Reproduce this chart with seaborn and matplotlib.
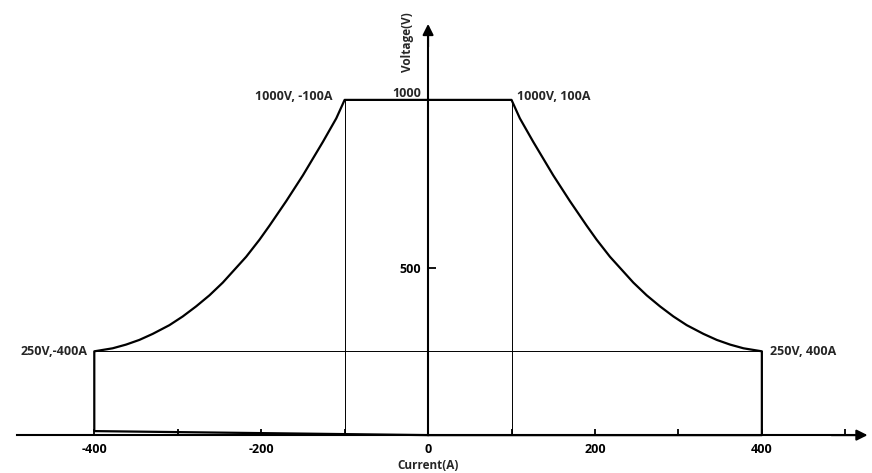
import matplotlib
matplotlib.use("Agg")
import matplotlib.pyplot as plt
import seaborn as sns
import pandas as pd

sns.set_theme(style="white")
plt.rcParams['font.family'] = ['Open Sans', 'DejaVu Sans']

# Data (right half; left half is its mirror)
current_right = [100, 110, 126, 138, 150, 170, 190, 202, 218, 246, 262, 278, 294,
                 310, 330, 346, 362, 378, 400]
voltage_right = [1000, 945, 875, 825, 775, 698, 625, 583, 532, 455, 417, 384, 354,
                 328, 302, 284, 270, 259, 250]
bottom_left_v = 12
x_tick_vals = [-400, -300, -200, -100, 0, 100, 200, 300, 400, 500]
x_tick_labels = ["-400", "", "-200", "", "0", "", "200", "", "400", ""]
y_tick_vals = [500, 1000]
y_tick_labels = ["500", ""]
y_top_label = "1000"
corner_labels = ["1000V, -100A", "1000V, 100A", "250V,-400A", "250V, 400A"]

# Build outline path from the arrays
xs = [0, -400, -400] + [-c for c in current_right[::-1]] + current_right + [400, 400, 0]
ys = [0, bottom_left_v, voltage_right[-1]] + voltage_right[::-1] + voltage_right + [0, 0, 0]
outline = pd.DataFrame({"I": xs, "V": ys})

fig = plt.figure(figsize=(8.72, 4.73), dpi=100)
ax = fig.add_axes([0, 0, 1, 1])
ax.set_xlim(-513, 532)
ax.set_ylim(-113, 1298)

sns.lineplot(data=outline, x="I", y="V", sort=False, estimator=None, color="black",
             lw=1.6, ax=ax, legend=False)

# thin guide lines
ax.plot([-100, -100], [0, 1000], color="black", lw=0.7)
ax.plot([100, 100], [0, 1000], color="black", lw=0.7)
ax.plot([-400, 400], [250, 250], color="black", lw=0.7)

# axes through origin
for s in ["top", "right"]:
    ax.spines[s].set_visible(False)
ax.spines["left"].set_position(("data", 0))
ax.spines["bottom"].set_position(("data", 0))
ax.spines["left"].set_bounds(0, 1200)
ax.spines["bottom"].set_bounds(-493, 510)
for s in ["left", "bottom"]:
    ax.spines[s].set_color("black")
    ax.spines[s].set_linewidth(1.5)
ax.annotate("", xy=(530, 0), xytext=(480, 0),
            arrowprops=dict(arrowstyle="-|>", color="black", lw=1.5, mutation_scale=16))
ax.annotate("", xy=(0, 1235), xytext=(0, 1150),
            arrowprops=dict(arrowstyle="-|>", color="black", lw=1.5, mutation_scale=16))

ax.set_xticks(x_tick_vals)
ax.set_xticklabels(x_tick_labels)
ax.set_yticks(y_tick_vals)
ax.set_yticklabels(y_tick_labels)
ax.tick_params(axis="x", direction="in", length=4, width=1.3, color="black", pad=6,
               labelsize=9, bottom=True)
ax.tick_params(axis="y", direction="in", length=6, width=1.3, color="black", pad=5,
               labelsize=9, left=True)
for lab in ax.get_xticklabels() + ax.get_yticklabels():
    lab.set_fontweight("bold")
    lab.set_color("black")
ax.set_xlabel("")
ax.set_ylabel("")

ax.text(-8, 1018, y_top_label, ha="right", va="center", fontsize=9, fontweight="bold")
ax.text(0, -92, "Current(A)", ha="center", va="center", fontsize=8.5, fontweight="bold")
ax.text(-25, 1173, "Voltage(V)", ha="center", va="center", rotation=90, fontsize=8.5,
        fontweight="bold")

ax.text(-114, 1009, corner_labels[0], ha="right", va="center", fontsize=9, fontweight="bold")
ax.text(107, 1009, corner_labels[1], ha="left", va="center", fontsize=9, fontweight="bold")
ax.text(-408, 248, corner_labels[2], ha="right", va="center", fontsize=9, fontweight="bold")
ax.text(410, 248, corner_labels[3], ha="left", va="center", fontsize=9, fontweight="bold")

fig.savefig("out.png", dpi=100)
